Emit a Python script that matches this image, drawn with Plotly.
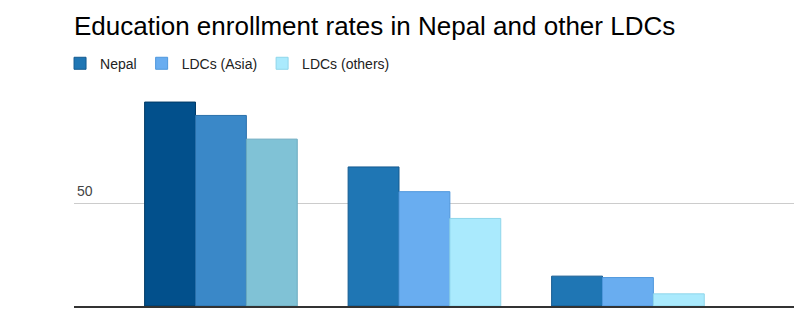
import plotly.graph_objects as go

levels = [0, 1, 2]  # primary, secondary, tertiary (no labels shown)
series_names = ["Nepal", "LDCs (Asia)", "LDCs (others)"]
nepal = [99, 67.5, 14.5]
ldc_asia = [92.5, 55.5, 13.8]
ldc_others = [81, 42.5, 5.9]
y_ticks = [50]

values = [nepal, ldc_asia, ldc_others]
base_colors = ["#1f76b4", "#69adf0", "#aaeafd"]
first_colors = ["#02508c", "#3a88c8", "#80c2d6"]
base_lines = ["#145a90", "#4f97dc", "#8fd6ea"]
first_lines = ["#013a66", "#2a70ab", "#6aaabf"]

fig = go.Figure()
for i, name in enumerate(series_names):
    fig.add_trace(go.Bar(
        x=levels, y=values[i], name=name, showlegend=False, offsetgroup=str(i),
        marker=dict(
            color=[first_colors[i]] + [base_colors[i]] * (len(levels) - 1),
            line=dict(color=[first_lines[i]] + [base_lines[i]] * (len(levels) - 1), width=1),
        ),
    ))
# legend entries with the series' base colours
for i, name in enumerate(series_names):
    fig.add_trace(go.Bar(
        x=[None], y=[None], name=name, offsetgroup=str(i), showlegend=True,
        marker=dict(color=base_colors[i], line=dict(color=base_lines[i], width=1)),
    ))

fig.update_layout(
    width=810, height=322,
    margin=dict(l=74, r=16, t=100, b=16),
    paper_bgcolor="white", plot_bgcolor="white",
    font=dict(family="Liberation Sans, Arial, sans-serif", size=14, color="#222"),
    title=dict(text="Education enrollment rates in Nepal and other LDCs",
               x=74 / 810, xanchor="left", y=1 - 26 / 322, yanchor="middle",
               font=dict(size=26, color="#000")),
    barmode="group", bargap=0.25, bargroupgap=0,
    showlegend=True,
    legend=dict(orientation="h", x=-0.0194, xanchor="left", y=1.254, yanchor="top",
                font=dict(size=14, color="#222"), traceorder="normal"),
    xaxis=dict(range=[-0.722, 2.816], showticklabels=False, showgrid=False,
               zeroline=False, showline=True, linecolor="#333", linewidth=2,
               ticks=""),
    yaxis=dict(range=[0, 100], tickvals=y_ticks, ticktext=[str(v) for v in y_ticks],
               showgrid=True, gridcolor="#cccccc", gridwidth=1, zeroline=False,
               ticklabelposition="inside", ticklabelshift=-12, ticklabelstandoff=0,
               tickfont=dict(size=14, color="#444"), showline=False, ticks=""),
)

fig.write_html("out.html")
